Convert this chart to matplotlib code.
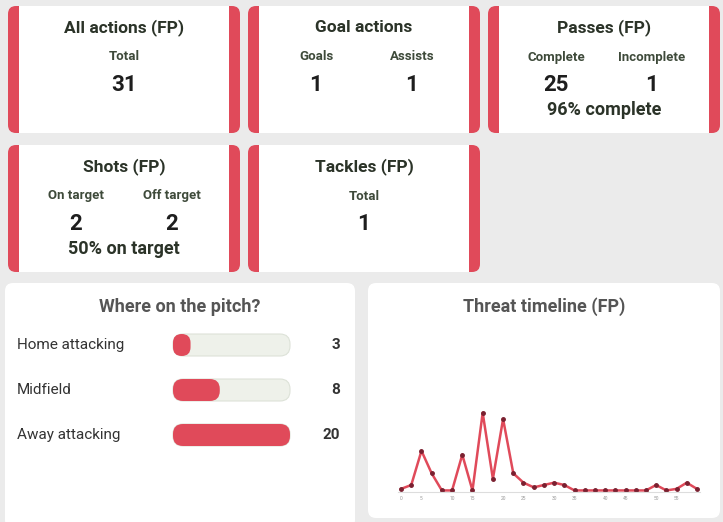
import matplotlib
matplotlib.use("Agg")
import matplotlib.pyplot as plt
from matplotlib.patches import FancyBboxPatch

plt.rcParams['font.family'] = ['Roboto', 'DejaVu Sans']

RED = '#e04a5a'
DARK = '#2b3328'
W, H = 723, 522

cards = [
    ("All actions (FP)", ["Total"], ["31"], None),
    ("Goal actions", ["Goals", "Assists"], ["1", "1"], None),
    ("Passes (FP)", ["Complete", "Incomplete"], ["25", "1"], "96% complete"),
    ("Shots (FP)", ["On target", "Off target"], ["2", "2"], "50% on target"),
    ("Tackles (FP)", ["Total"], ["1"], None),
]
card_boxes = [(8, 6), (248, 6), (488, 6), (8, 145), (248, 145)]

zones = ["Home attacking", "Midfield", "Away attacking"]
zone_counts = [3, 8, 20]

threat = [0.02, 0.07, 0.51, 0.22, 0, 0, 0.46, 0, 1.0, 0.15, 0.92, 0.22, 0.10, 0.04,
          0.07, 0.10, 0.07, 0, 0, 0, 0, 0, 0, 0, 0, 0.07, 0, 0.02, 0.10, 0.02]
tick_idx = [0, 2, 5, 7, 10, 12, 15, 17, 20, 22, 25, 27]
tick_lbl = ["0", "5", "10", "15", "20", "25", "30", "35", "40", "45", "50", "55"]

fig = plt.figure(figsize=(W / 100, H / 100), dpi=100)
fig.patch.set_facecolor('#ebebeb')
ax = fig.add_axes([0, 0, 1, 1])
ax.set_xlim(0, W)
ax.set_ylim(H, 0)
ax.axis('off')

cw, ch = 232, 127
for (title, labels, vals, foot), (x0, y0) in zip(cards, card_boxes):
    ax.add_patch(FancyBboxPatch((x0, y0), cw, ch, boxstyle="round,pad=0,rounding_size=8",
                                fc=RED, ec='none'))
    ax.add_patch(FancyBboxPatch((x0 + 11, y0), cw - 22, ch, boxstyle="square,pad=0",
                                fc='white', ec='none'))
    cx = x0 + cw / 2
    ax.text(cx, y0 + 22, title, ha='center', va='center', fontsize=12.5, weight='bold', color=DARK)
    if len(labels) == 1:
        xs = [cx]
    else:
        xs = [cx - 48, cx + 48]
    for xx, l, v in zip(xs, labels, vals):
        ax.text(xx, y0 + 51, l, ha='center', va='center', fontsize=9.5, weight='bold', color='#3e4a3a')
        ax.text(xx, y0 + 79, v, ha='center', va='center', fontsize=16, weight='bold', color='#1e1e1e')
    if foot:
        ax.text(cx, y0 + 104, foot, ha='center', va='center', fontsize=13, weight='bold', color=DARK)

# bottom panels
ax.add_patch(FancyBboxPatch((5, 283), 350, 245, boxstyle="round,pad=0,rounding_size=8", fc='white', ec='none'))
ax.add_patch(FancyBboxPatch((368, 283), 352, 235, boxstyle="round,pad=0,rounding_size=8", fc='white', ec='none'))
ax.text(180, 307, "Where on the pitch?", ha='center', va='center', fontsize=13, weight='bold', color='#555555')
ax.text(544, 307, "Threat timeline (FP)", ha='center', va='center', fontsize=13, weight='bold', color='#555555')

tx, tw, th = 173, 117, 22
maxc = max(zone_counts)
for i, (z, c) in enumerate(zip(zones, zone_counts)):
    yc = 345 + 45 * i
    ax.text(17, yc, z, ha='left', va='center', fontsize=11, color='#333333')
    ax.add_patch(FancyBboxPatch((tx, yc - th / 2), tw, th, boxstyle="round,pad=0,rounding_size=10",
                                fc='#eef1ea', ec='#dde2d8', lw=0.8))
    fw = tw * c / maxc
    ax.add_patch(FancyBboxPatch((tx, yc - th / 2), fw, th,
                                boxstyle="round,pad=0,rounding_size=%g" % min(10, fw / 2),
                                fc=RED, ec='none'))
    ax.text(340, yc, str(c), ha='right', va='center', fontsize=11, weight='bold', color='#333333')

# timeline
tax = fig.add_axes([398 / W, 1 - 492 / H, (700 - 398) / W, (492 - 405) / H])
tax.set_facecolor('none')
xs = list(range(len(threat)))
tax.plot(xs, threat, color=RED, lw=1.8, marker='o', ms=2.5, mfc='#7a2030', mec='#7a2030')
tax.set_xlim(-0.3, len(threat) - 0.7)
tax.set_ylim(-0.02, 1.1)
for s in ['top', 'right', 'left']:
    tax.spines[s].set_visible(False)
tax.spines['bottom'].set_color('#dddddd')
tax.set_yticks([])
tax.set_xticks(tick_idx)
tax.set_xticklabels(tick_lbl, fontsize=3.5, color='#999999')
tax.tick_params(axis='x', length=0, pad=3)

fig.savefig("out.png", dpi=100, facecolor=fig.get_facecolor())
